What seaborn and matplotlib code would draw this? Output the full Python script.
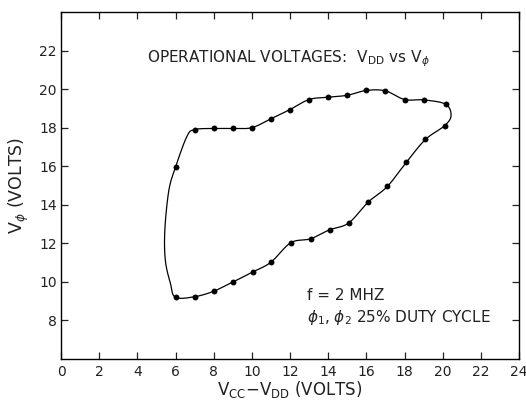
import numpy as np
import pandas as pd
import matplotlib
matplotlib.use("Agg")
import matplotlib.pyplot as plt
import seaborn as sns

# Measured points (V_CC - V_DD, V_phi), in loop order (upper branch then lower branch)
upper_x = [6, 7, 8, 9, 10, 11, 12, 13, 14, 15, 16, 17, 18, 19, 20.15]
upper_y = [15.95, 17.9, 17.96, 17.96, 18.0, 18.46, 18.94, 19.46, 19.58, 19.68, 19.93, 19.91, 19.46, 19.44, 19.22]
lower_x = [20.1, 19.1, 18.1, 17.1, 16.1, 15.07, 14.09, 13.09, 12.04, 11.0, 10.04, 9.02, 8.02, 7.0, 6.0]
lower_y = [18.1, 17.39, 16.21, 14.95, 14.14, 13.05, 12.71, 12.24, 12.03, 11.02, 10.51, 10.0, 9.52, 9.23, 9.2]

# Unmarked stretches of the drawn curve
rise_bend_x = [6.6]
rise_bend_y = [17.55]
right_bend_x = [20.44]
right_bend_y = [18.63]
left_bend_x = [5.74, 5.47, 5.44, 5.65]
left_bend_y = [9.9, 11.1, 12.67, 14.74]

x_ticks = [0, 2, 4, 6, 8, 10, 12, 14, 16, 18, 20, 22, 24]
y_ticks = [8, 10, 12, 14, 16, 18, 20, 22]

pts = pd.DataFrame({
    "x": upper_x + lower_x,
    "y": upper_y + lower_y,
})

# closed guide path for the smooth curve
path_x = upper_x[:1] + rise_bend_x + upper_x[1:] + right_bend_x + lower_x + left_bend_x
path_y = upper_y[:1] + rise_bend_y + upper_y[1:] + right_bend_y + lower_y + left_bend_y
P = np.column_stack([path_x, path_y])
n = len(P)
curve = []
for i in range(n):
    p0, p1, p2, p3 = P[(i - 1) % n], P[i], P[(i + 1) % n], P[(i + 2) % n]
    for t in np.linspace(0, 1, 16, endpoint=False):
        t2, t3 = t * t, t * t * t
        c = 0.5 * ((2 * p1) + (-p0 + p2) * t + (2 * p0 - 5 * p1 + 4 * p2 - p3) * t2
                   + (-p0 + 3 * p1 - 3 * p2 + p3) * t3)
        curve.append(c)
curve.append(P[0])
curve = np.array(curve)
curve_df = pd.DataFrame({"x": curve[:, 0], "y": curve[:, 1]})

sns.set_style("ticks")
plt.rcParams["font.family"] = ["DejaVu Sans"]
plt.rcParams["mathtext.fontset"] = "dejavusans"

fig = plt.figure(figsize=(5.26, 4.0), dpi=100)
ax = fig.add_axes([61 / 526, 41 / 400, (519 - 61) / 526, (388 - 41) / 400])

sns.lineplot(data=curve_df, x="x", y="y", sort=False, estimator=None,
             color="black", linewidth=0.9, ax=ax)
sns.scatterplot(data=pts, x="x", y="y", color="black", s=18, edgecolor="black",
                linewidth=0, ax=ax, zorder=3)

ax.set_xlim(0, 24)
ax.set_ylim(6, 24)
ax.set_xticks(x_ticks)
ax.set_xticklabels([str(v) for v in x_ticks])
ax.set_yticks(y_ticks)
ax.set_yticklabels([str(v) for v in y_ticks])
ax.tick_params(axis="both", direction="in", length=5, width=0.9, labelsize=10,
               colors="#222222", top=True, right=True)
ax.tick_params(axis="x", pad=4)
ax.tick_params(axis="y", pad=3)
for s in ax.spines.values():
    s.set_visible(True)
    s.set_linewidth(1.0)
    s.set_color("black")

ax.set_xlabel(r"V$_{\rm CC}$$-$V$_{\rm DD}$ (VOLTS)", fontsize=12, color="#222222", labelpad=0)
ax.set_ylabel(r"V$_\phi$ (VOLTS)", fontsize=12.5, color="#222222", labelpad=6)

ax.text(4.5, 21.4, r"OPERATIONAL VOLTAGES:  V$_{\rm DD}$ vs V$_\phi$", fontsize=11,
        color="#222222")
ax.text(12.9, 9.04, "f = 2 MHZ", fontsize=11, color="#222222")
ax.text(12.88, 7.92, r"$\phi_1$, $\phi_2$ 25% DUTY CYCLE", fontsize=11, color="#222222")

fig.savefig("out.png", dpi=100)
